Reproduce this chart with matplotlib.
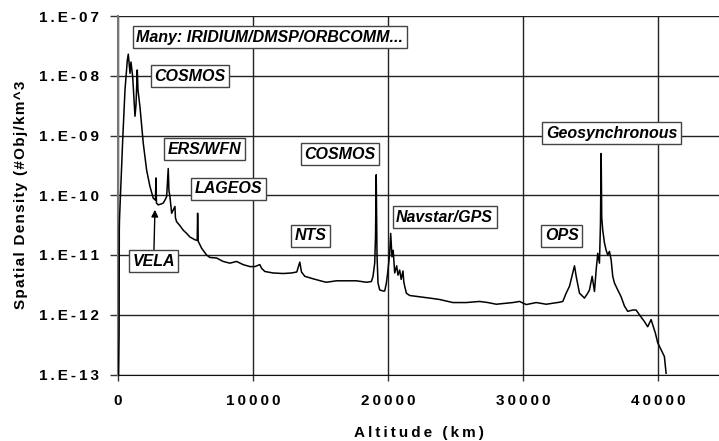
import matplotlib
matplotlib.use("Agg")
import matplotlib.pyplot as plt

plt.rcParams['font.family'] = ['Liberation Sans', 'DejaVu Sans']

# Altitude (km) and spatial density (#Obj/km^3)
altitude = [37, 74, 80, 96, 110, 348, 518, 688, 762, 888, 961, 1087, 1257, 1331, 1427,
            1479, 1627, 1871, 2123, 2367, 2611, 2774, 2810, 2847, 2981, 3232, 3350,
            3476, 3602, 3720, 3772, 3846, 3972, 4090, 4216, 4253, 4341, 4585, 4830,
            5081, 5325, 5695, 5865, 5895, 5939, 6190, 6560, 6804, 7300, 7788, 8284,
            8779, 9267, 9763, 10133, 10502, 10628, 10872, 11486, 12226, 12847, 13239,
            13461, 13586, 13830, 14444, 15184, 15435, 16175, 16915, 17654, 18394,
            18764, 18882, 19008, 19067, 19119, 19178, 19252, 19378, 19622, 19748,
            19873, 19992, 20117, 20191, 20287, 20376, 20487, 20635, 20731, 20857,
            20968, 21101, 21160, 21227, 21352, 21596, 22336, 23075, 23815, 24798,
            25789, 26773, 27387, 28008, 29236, 29732, 30227, 30967, 31706, 32690,
            32934, 33185, 33430, 33674, 33800, 33925, 34169, 34539, 34783, 34909,
            35109, 35279, 35405, 35523, 35648, 35722, 35774, 35818, 35892, 36018,
            36144, 36262, 36388, 36514, 36632, 36758, 37002, 37253, 37497, 37741,
            38111, 38363, 38607, 38977, 39221, 39472, 39591, 39791, 39961, 40212,
            40456, 40582]
density = [1.0e-13, 3.2e-13, 5.0e-13, 2.6e-11, 3.9e-11, 8.5e-10, 5.8e-9, 1.8e-8, 2.3e-8,
           1.1e-8, 1.7e-8, 9.6e-9, 2.1e-9, 3.2e-9, 1.25e-8, 5.8e-9, 3.0e-9, 7.4e-10,
           2.6e-10, 1.4e-10, 8.9e-11, 8.3e-11, 1.95e-10, 7.4e-11, 6.9e-11, 7.2e-11,
           7.4e-11, 8.3e-11, 9.5e-11, 2.8e-10, 1.2e-10, 9.5e-11, 5.0e-11, 5.7e-11,
           6.5e-11, 4.2e-11, 3.6e-11, 3.1e-11, 2.6e-11, 2.3e-11, 2.0e-11, 1.8e-11,
           1.75e-11, 5.0e-11, 1.7e-11, 1.3e-11, 1.0e-11, 9.1e-12, 8.9e-12, 7.8e-12,
           7.3e-12, 7.8e-12, 6.9e-12, 6.4e-12, 6.4e-12, 6.9e-12, 6.0e-12, 5.3e-12,
           5.0e-12, 4.9e-12, 5.0e-12, 5.2e-12, 7.6e-12, 5.2e-12, 4.4e-12, 4.0e-12,
           3.6e-12, 3.5e-12, 3.7e-12, 3.7e-12, 3.7e-12, 3.5e-12, 3.6e-12, 4.4e-12,
           7.3e-12, 2.0e-11, 2.2e-10, 1.0e-11, 3.4e-12, 2.6e-12, 2.5e-12, 2.5e-12,
           3.4e-12, 5.6e-12, 1.07e-11, 2.3e-11, 9.3e-12, 1.2e-11, 5.0e-12, 6.6e-12,
           4.6e-12, 5.6e-12, 3.9e-12, 5.4e-12, 3.6e-12, 3.0e-12, 2.3e-12, 2.1e-12,
           2.0e-12, 1.9e-12, 1.8e-12, 1.6e-12, 1.6e-12, 1.67e-12, 1.6e-12, 1.5e-12,
           1.6e-12, 1.67e-12, 1.48e-12, 1.6e-12, 1.5e-12, 1.62e-12, 1.67e-12, 2.3e-12,
           3.0e-12, 5.0e-12, 6.6e-12, 4.4e-12, 2.3e-12, 1.9e-12, 2.3e-12, 2.6e-12,
           4.4e-12, 2.45e-12, 5.6e-12, 1.07e-11, 7.3e-12, 3.2e-11, 5.0e-10, 4.2e-11,
           2.6e-11, 1.6e-11, 1.2e-11, 1.0e-11, 1.15e-11, 8.3e-12, 4.4e-12, 3.4e-12,
           2.6e-12, 2.0e-12, 1.4e-12, 1.14e-12, 1.2e-12, 1.2e-12, 1.0e-12, 7.7e-13,
           6.3e-13, 8.3e-13, 6.8e-13, 4.9e-13, 3.4e-13, 2.6e-13, 2.0e-13, 1.05e-13]

x_ticks = [0, 10000, 20000, 30000, 40000]
x_tick_labels = ["0", "10000", "20000", "30000", "40000"]
y_ticks = [1e-13, 1e-12, 1e-11, 1e-10, 1e-9, 1e-8, 1e-7]
y_tick_labels = ["1.E-13", "1.E-12", "1.E-11", "1.E-10", "1.E-09", "1.E-08", "1.E-07"]

# label text, centre altitude, centre density
labels = [
    ("Many: IRIDIUM/DMSP/ORBCOMM...", 11238, 4.4e-8),
    ("COSMOS", 5325, 9.8e-9),
    ("ERS/WFN", 6427, 5.9e-10),
    ("COSMOS", 16420, 4.9e-10),
    ("LAGEOS", 8172, 1.29e-10),
    ("NTS", 14260, 2.1e-11),
    ("Navstar/GPS", 24185, 4.25e-11),
    ("OPS", 32853, 2.1e-11),
    ("Geosynchronous", 36550, 1.1e-9),
]
vela_text = ("VELA", 2640, 7.9e-12)
vela_target = (2736, 5.7e-11)


def track(s, sp='\u2009'):
    return sp.join(s)


fig = plt.figure(figsize=(7.19, 4.41), dpi=100)
ax = fig.add_axes([118/719, 1 - 374.5/441, 1 - 118/719, (374.5 - 16)/441])

ax.plot(altitude, density, color='black', linewidth=1.1, zorder=3)
ax.set_yscale('log')
ax.set_xlim(0, 44500)
ax.set_ylim(1e-13, 1e-7)

ax.set_xticks(x_ticks)
ax.set_xticklabels([track(t) for t in x_tick_labels], fontweight='bold', fontsize=11)
ax.set_yticks(y_ticks)
ax.set_yticklabels([track(t) for t in y_tick_labels], fontweight='bold', fontsize=11)
ax.minorticks_off()
ax.tick_params(axis='y', direction='out', length=6, width=1, color='#333333', pad=7.5)
ax.tick_params(axis='x', direction='out', length=4.3, width=1, color='#333333', pad=10)

ax.grid(True, which='major', color='#222222', linewidth=1.0, zorder=0)
ax.set_axisbelow(True)
for s in ['top', 'right']:
    ax.spines[s].set_visible(False)
ax.spines['left'].set_color('#777777')
ax.spines['left'].set_linewidth(1.5)
ax.spines['bottom'].set_color('#111111')

ax.set_xlabel(track("Altitude (km)"), fontweight='bold', fontsize=11, labelpad=13)
ax.set_ylabel(track("Spatial Density (#Obj/km^3", '\u200a'), fontweight='bold', fontsize=11, labelpad=8)

box = dict(boxstyle='square,pad=0.22', facecolor='white', edgecolor='#444444', linewidth=1.0)
for txt, xa, yd in labels:
    ax.text(xa, yd, txt, ha='center', va='center', fontsize=11.5, fontweight='bold',
            fontstyle='italic', bbox=box, zorder=5)

ax.annotate(vela_text[0], xy=vela_target, xytext=(vela_text[1], vela_text[2]),
            ha='center', va='center', fontsize=11.5, fontweight='bold', fontstyle='italic',
            bbox=box, zorder=5,
            arrowprops=dict(arrowstyle='-|>', color='black', linewidth=1.0,
                            mutation_scale=10, shrinkA=0, shrinkB=0))

fig.savefig("out.png", dpi=100)
